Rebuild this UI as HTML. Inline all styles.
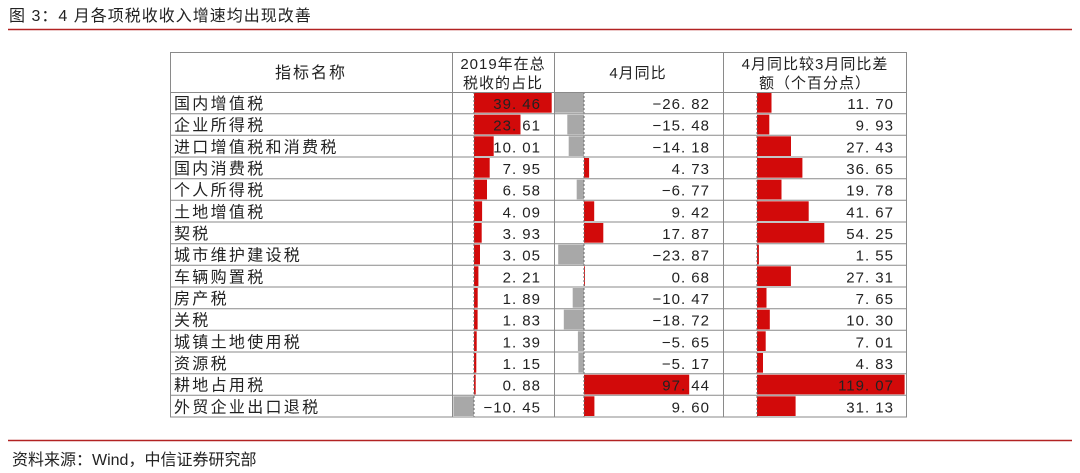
<!DOCTYPE html>
<html><head><meta charset="utf-8"><style>
body{margin:0;background:#fff;}
svg{display:block}
text{font-family:"Liberation Sans","Noto Sans CJK SC",sans-serif;fill:#222}
.n{font-size:15px;text-anchor:end;letter-spacing:1px}
.c{font-size:16px;letter-spacing:2.3px}
.h{font-size:15px;text-anchor:middle;letter-spacing:1px}
.r{fill:#d20a0a}.g{fill:#a8a8a8}
</style></head><body>
<svg width="1080" height="473" viewBox="0 0 1080 473">
<text x="9" y="21" style="font-size:16px;letter-spacing:1px">图 3：4 月各项税收收入增速均出现改善</text>
<line x1="8" y1="29.5" x2="1072" y2="29.5" stroke="#b22222" stroke-width="1.5"/>
<line x1="8" y1="440.5" x2="1072" y2="440.5" stroke="#b22222" stroke-width="1.5"/>
<text x="12" y="465" style="font-size:16px">资料来源：Wind，中信证券研究部</text>

<g>
<rect class="r" x="474" y="93" width="77.7" height="19.7"/>
<rect class="r" x="474" y="114.7" width="46.5" height="19.7"/>
<rect class="r" x="474" y="136.3" width="19.7" height="19.7"/>
<rect class="r" x="474" y="158" width="15.7" height="19.7"/>
<rect class="r" x="474" y="179.7" width="13" height="19.7"/>
<rect class="r" x="474" y="201.3" width="8.1" height="19.7"/>
<rect class="r" x="474" y="223" width="7.7" height="19.7"/>
<rect class="r" x="474" y="244.7" width="6" height="19.7"/>
<rect class="r" x="474" y="266.3" width="4.4" height="19.7"/>
<rect class="r" x="474" y="288" width="3.7" height="19.7"/>
<rect class="r" x="474" y="309.7" width="3.6" height="19.7"/>
<rect class="r" x="474" y="331.3" width="2.7" height="19.7"/>
<rect class="r" x="474" y="353" width="2.3" height="19.7"/>
<rect class="r" x="474" y="374.7" width="1.7" height="19.7"/>
<rect class="g" x="453.4" y="396.3" width="20.6" height="19.7"/>
<line x1="474" y1="92" x2="474" y2="417" stroke="#666" stroke-dasharray="2,2"/>
</g>
<g>
<rect class="g" x="555" y="93" width="29" height="19.7"/>
<rect class="g" x="567.3" y="114.7" width="16.7" height="19.7"/>
<rect class="g" x="568.7" y="136.3" width="15.3" height="19.7"/>
<rect class="r" x="584" y="158" width="5.1" height="19.7"/>
<rect class="g" x="576.7" y="179.7" width="7.3" height="19.7"/>
<rect class="r" x="584" y="201.3" width="10.2" height="19.7"/>
<rect class="r" x="584" y="223" width="19.3" height="19.7"/>
<rect class="g" x="558.2" y="244.7" width="25.8" height="19.7"/>
<rect class="r" x="584" y="266.3" width="0.9" height="19.7"/>
<rect class="g" x="572.7" y="288" width="11.3" height="19.7"/>
<rect class="g" x="563.8" y="309.7" width="20.2" height="19.7"/>
<rect class="g" x="577.9" y="331.3" width="6.1" height="19.7"/>
<rect class="g" x="578.4" y="353" width="5.6" height="19.7"/>
<rect class="r" x="584" y="374.7" width="105.2" height="19.7"/>
<rect class="r" x="584" y="396.3" width="10.4" height="19.7"/>
<line x1="584" y1="92" x2="584" y2="417" stroke="#666" stroke-dasharray="2,2"/>
</g>
<g>
<rect class="r" x="757" y="93" width="14.5" height="19.7"/>
<rect class="r" x="757" y="114.7" width="12.3" height="19.7"/>
<rect class="r" x="757" y="136.3" width="34" height="19.7"/>
<rect class="r" x="757" y="158" width="45.4" height="19.7"/>
<rect class="r" x="757" y="179.7" width="24.5" height="19.7"/>
<rect class="r" x="757" y="201.3" width="51.7" height="19.7"/>
<rect class="r" x="757" y="223" width="67.3" height="19.7"/>
<rect class="r" x="757" y="244.7" width="1.9" height="19.7"/>
<rect class="r" x="757" y="266.3" width="33.9" height="19.7"/>
<rect class="r" x="757" y="288" width="9.5" height="19.7"/>
<rect class="r" x="757" y="309.7" width="12.8" height="19.7"/>
<rect class="r" x="757" y="331.3" width="8.7" height="19.7"/>
<rect class="r" x="757" y="353" width="6" height="19.7"/>
<rect class="r" x="757" y="374.7" width="147.6" height="19.7"/>
<rect class="r" x="757" y="396.3" width="38.6" height="19.7"/>
<line x1="757" y1="92" x2="757" y2="417" stroke="#666" stroke-dasharray="2,2"/>
</g>

<g stroke="#8a8a8a" stroke-width="1" fill="none">
<rect x="170.5" y="52.5" width="736" height="364.5"/>
<line x1="452.5" y1="52" x2="452.5" y2="417"/>
<line x1="554.5" y1="52" x2="554.5" y2="417"/>
<line x1="723.5" y1="52" x2="723.5" y2="417"/>
<line x1="170" y1="92.5" x2="907" y2="92.5"/>
<line x1="170" y1="113.7" x2="907" y2="113.7"/>
<line x1="170" y1="135.3" x2="907" y2="135.3"/>
<line x1="170" y1="157" x2="907" y2="157"/>
<line x1="170" y1="178.7" x2="907" y2="178.7"/>
<line x1="170" y1="200.3" x2="907" y2="200.3"/>
<line x1="170" y1="222" x2="907" y2="222"/>
<line x1="170" y1="243.7" x2="907" y2="243.7"/>
<line x1="170" y1="265.3" x2="907" y2="265.3"/>
<line x1="170" y1="287" x2="907" y2="287"/>
<line x1="170" y1="308.7" x2="907" y2="308.7"/>
<line x1="170" y1="330.3" x2="907" y2="330.3"/>
<line x1="170" y1="352" x2="907" y2="352"/>
<line x1="170" y1="373.7" x2="907" y2="373.7"/>
<line x1="170" y1="395.3" x2="907" y2="395.3"/>
</g>

<text class="h" x="311" y="78" style="font-size:16px;letter-spacing:2px">指标名称</text>
<text class="h" x="503" y="69">2019年在总</text>
<text class="h" x="503" y="88">税收的占比</text>
<text class="h" x="638" y="78">4月同比</text>
<text class="h" x="815" y="69">4月同比较3月同比差</text>
<text class="h" x="815" y="88">额（个百分点）</text>

<g>
<text class="c" x="174" y="109">国内增值税</text>
<text class="c" x="174" y="130.7">企业所得税</text>
<text class="c" x="174" y="152.3">进口增值税和消费税</text>
<text class="c" x="174" y="174">国内消费税</text>
<text class="c" x="174" y="195.7">个人所得税</text>
<text class="c" x="174" y="217.3">土地增值税</text>
<text class="c" x="174" y="239">契税</text>
<text class="c" x="174" y="260.7">城市维护建设税</text>
<text class="c" x="174" y="282.3">车辆购置税</text>
<text class="c" x="174" y="304">房产税</text>
<text class="c" x="174" y="325.7">关税</text>
<text class="c" x="174" y="347.3">城镇土地使用税</text>
<text class="c" x="174" y="369">资源税</text>
<text class="c" x="174" y="390.7">耕地占用税</text>
<text class="c" x="174" y="412.3">外贸企业出口退税</text>
</g>
<g>
<text class="n" x="541" y="109">39. 46</text>
<text class="n" x="541" y="130.7">23. 61</text>
<text class="n" x="541" y="152.3">10. 01</text>
<text class="n" x="541" y="174">7. 95</text>
<text class="n" x="541" y="195.7">6. 58</text>
<text class="n" x="541" y="217.3">4. 09</text>
<text class="n" x="541" y="239">3. 93</text>
<text class="n" x="541" y="260.7">3. 05</text>
<text class="n" x="541" y="282.3">2. 21</text>
<text class="n" x="541" y="304">1. 89</text>
<text class="n" x="541" y="325.7">1. 83</text>
<text class="n" x="541" y="347.3">1. 39</text>
<text class="n" x="541" y="369">1. 15</text>
<text class="n" x="541" y="390.7">0. 88</text>
<text class="n" x="541" y="412.3">−10. 45</text>

<text class="n" x="710" y="109">−26. 82</text>
<text class="n" x="710" y="130.7">−15. 48</text>
<text class="n" x="710" y="152.3">−14. 18</text>
<text class="n" x="710" y="174">4. 73</text>
<text class="n" x="710" y="195.7">−6. 77</text>
<text class="n" x="710" y="217.3">9. 42</text>
<text class="n" x="710" y="239">17. 87</text>
<text class="n" x="710" y="260.7">−23. 87</text>
<text class="n" x="710" y="282.3">0. 68</text>
<text class="n" x="710" y="304">−10. 47</text>
<text class="n" x="710" y="325.7">−18. 72</text>
<text class="n" x="710" y="347.3">−5. 65</text>
<text class="n" x="710" y="369">−5. 17</text>
<text class="n" x="710" y="390.7">97. 44</text>
<text class="n" x="710" y="412.3">9. 60</text>

<text class="n" x="894" y="109">11. 70</text>
<text class="n" x="894" y="130.7">9. 93</text>
<text class="n" x="894" y="152.3">27. 43</text>
<text class="n" x="894" y="174">36. 65</text>
<text class="n" x="894" y="195.7">19. 78</text>
<text class="n" x="894" y="217.3">41. 67</text>
<text class="n" x="894" y="239">54. 25</text>
<text class="n" x="894" y="260.7">1. 55</text>
<text class="n" x="894" y="282.3">27. 31</text>
<text class="n" x="894" y="304">7. 65</text>
<text class="n" x="894" y="325.7">10. 30</text>
<text class="n" x="894" y="347.3">7. 01</text>
<text class="n" x="894" y="369">4. 83</text>
<text class="n" x="894" y="390.7">119. 07</text>
<text class="n" x="894" y="412.3">31. 13</text>
</g>
</svg>
</body></html>
